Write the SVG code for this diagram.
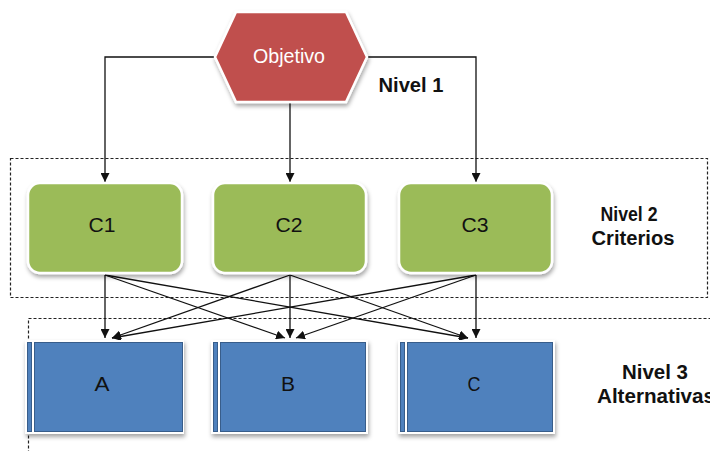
<svg xmlns="http://www.w3.org/2000/svg" width="710" height="451" viewBox="0 0 710 451">
<defs>
<style>
.lbl{font-family:"Liberation Sans",Arial,sans-serif;font-size:20px;text-anchor:middle}
.lvl{font-family:"Liberation Sans",Arial,sans-serif;font-size:20px;font-weight:bold;fill:#111;text-anchor:middle}
.conn{stroke:#111;stroke-width:1.3;fill:none;marker-end:url(#ah)}
.dash{fill:none;stroke:#222;stroke-width:1.2;stroke-dasharray:3 2}
.crit{fill:#9BBB59;stroke:#fff;stroke-width:2.5}
.alt{fill:#4F81BD;stroke:#385D8A;stroke-width:1}
</style>
<marker id="ah" viewBox="0 0 10 10" refX="10" refY="5" markerWidth="9" markerHeight="9" markerUnits="userSpaceOnUse" orient="auto">
<path d="M0,0 L10,5 L0,10 z" fill="#111"/>
</marker>
<filter id="sh" x="-10%" y="-10%" width="125%" height="130%">
<feDropShadow dx="1" dy="3" stdDeviation="2" flood-color="#000" flood-opacity="0.35"/>
</filter>
</defs>
<rect x="0" y="0" width="710" height="451" fill="#fff"/>
<rect class="dash" x="10.5" y="158.5" width="697" height="139"/>
<rect class="dash" x="28.5" y="318.5" width="700" height="200"/>
<g id="connectors">
<path class="conn" d="M215,57 H105 V182"/>
<path class="conn" d="M290,102 V182"/>
<path class="conn" d="M367,57 H476 V182"/>
<path class="conn" d="M105,275 V338"/>
<path class="conn" d="M105,275 L285,338"/>
<path class="conn" d="M105,275 L468,338"/>
<path class="conn" d="M290,275 L112,338"/>
<path class="conn" d="M290,275 V338"/>
<path class="conn" d="M290,275 L468,338"/>
<path class="conn" d="M476,275 L112,338"/>
<path class="conn" d="M476,275 L296,338"/>
<path class="conn" d="M476,275 V338"/>
</g>
<g id="objetivo">
<polygon points="215,57 236,12 346,12 367,57 346,102 236,102" fill="#C0504D" stroke="#fff" stroke-width="2.5" filter="url(#sh)"/>
<text class="lbl" x="289" y="63" fill="#fff" textLength="72" lengthAdjust="spacingAndGlyphs">Objetivo</text>
</g>
<g id="nivel1"><text class="lvl" x="411" y="92" textLength="65" lengthAdjust="spacingAndGlyphs">Nivel 1</text></g>
<g id="c1">
<rect class="crit" x="28" y="183" width="154" height="90" rx="12" filter="url(#sh)"/>
<text class="lbl" x="102" y="232" fill="#111" textLength="27" lengthAdjust="spacingAndGlyphs">C1</text>
</g>
<g id="c2">
<rect class="crit" x="213" y="183" width="153" height="90" rx="12" filter="url(#sh)"/>
<text class="lbl" x="289" y="232" fill="#111" textLength="27" lengthAdjust="spacingAndGlyphs">C2</text>
</g>
<g id="c3">
<rect class="crit" x="399" y="183" width="153" height="90" rx="12" filter="url(#sh)"/>
<text class="lbl" x="475" y="232" fill="#111" textLength="27" lengthAdjust="spacingAndGlyphs">C3</text>
</g>
<g id="nivel2">
<text class="lvl" x="629" y="221" textLength="57" lengthAdjust="spacingAndGlyphs">Nivel 2</text>
<text class="lvl" x="633" y="245" textLength="83" lengthAdjust="spacingAndGlyphs">Criterios</text>
</g>
<g id="a">
<rect x="25" y="340" width="159" height="94" fill="#fff" filter="url(#sh)"/>
<rect class="alt" x="27.5" y="342.5" width="4" height="89"/>
<rect class="alt" x="34.5" y="342.5" width="148" height="89"/>
<text class="lbl" x="102" y="391" fill="#111" textLength="15" lengthAdjust="spacingAndGlyphs">A</text>
</g>
<g id="b">
<rect x="211" y="340" width="157" height="94" fill="#fff" filter="url(#sh)"/>
<rect class="alt" x="213.5" y="342.5" width="4" height="89"/>
<rect class="alt" x="220.5" y="342.5" width="145" height="89"/>
<text class="lbl" x="288" y="391" fill="#111" textLength="14" lengthAdjust="spacingAndGlyphs">B</text>
</g>
<g id="c">
<rect x="398" y="340" width="157" height="94" fill="#fff" filter="url(#sh)"/>
<rect class="alt" x="400.5" y="342.5" width="4" height="89"/>
<rect class="alt" x="407.5" y="342.5" width="145" height="89"/>
<text class="lbl" x="474" y="391" fill="#111" textLength="13" lengthAdjust="spacingAndGlyphs">C</text>
</g>
<g id="nivel3">
<text class="lvl" x="655" y="379" textLength="66" lengthAdjust="spacingAndGlyphs">Nivel 3</text>
<text class="lvl" x="597" y="403" style="text-anchor:start" textLength="118" lengthAdjust="spacingAndGlyphs">Alternativas</text>
</g>
</svg>
